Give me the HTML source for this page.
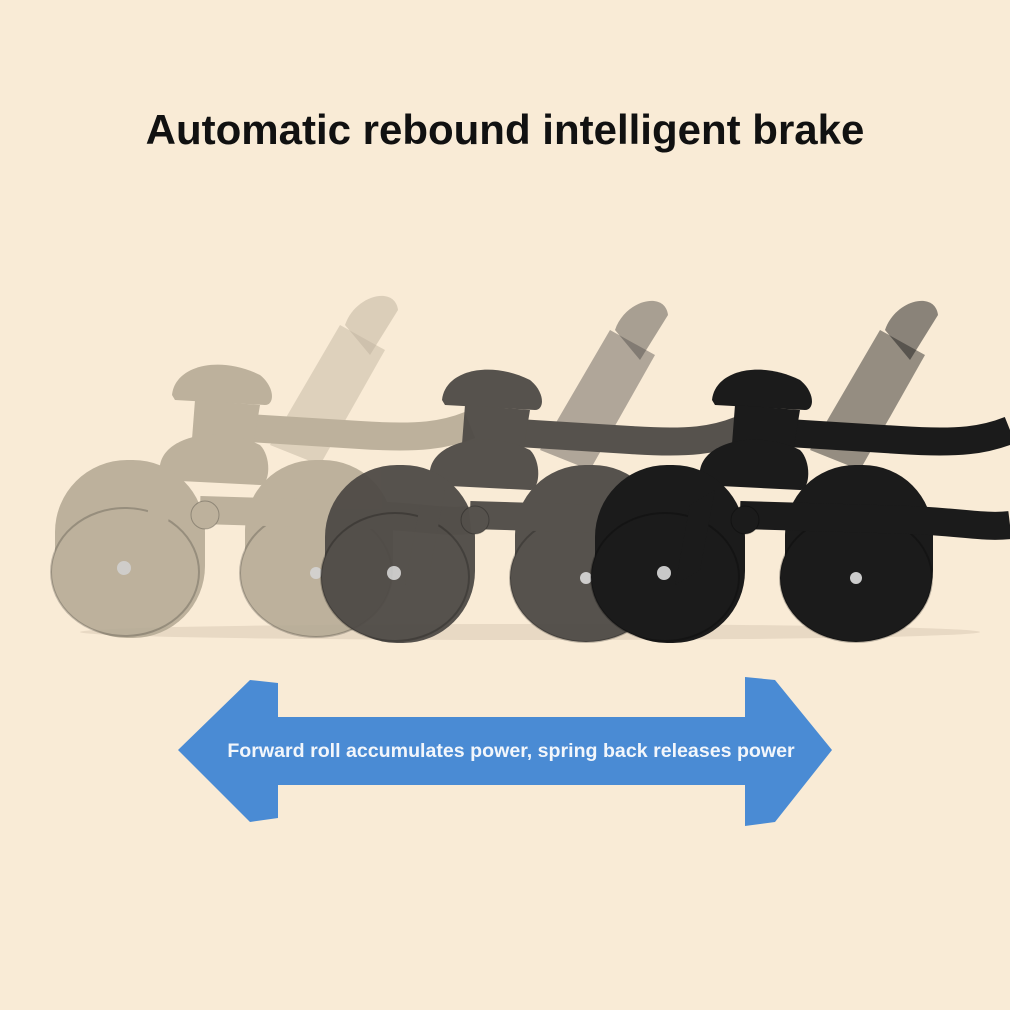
<!DOCTYPE html>
<html><head><meta charset="utf-8"><style>
html,body{margin:0;padding:0;background:#f9ebd6;}
body{width:1010px;height:1010px;position:relative;overflow:hidden;font-family:"Liberation Sans",sans-serif;}
h1{position:absolute;top:106px;left:0;width:1010px;text-align:center;margin:0;font-size:42px;font-weight:bold;color:#111;}
</style></head><body>
<h1>Automatic rebound intelligent brake</h1>
<svg width="1010" height="1010" style="position:absolute;left:0;top:0">
<defs>
<g id="r">
  <path d="M810,450 L880,330 L925,355 L860,470 Z" fill="currentColor" opacity="0.45"/>
  <path d="M885,330 C895,300 935,290 938,315 L910,360 Z" fill="currentColor" opacity="0.5"/>
  <path d="M740,430 L900,440 C960,444 985,440 1010,430" stroke="currentColor" stroke-width="28" fill="none"/>
  <path d="M712,400 C715,370 760,360 800,380 C815,392 815,410 805,410 L715,405 Z" fill="currentColor"/>
  <path d="M735,405 L800,410 L790,470 L730,470 Z" fill="currentColor"/>
  <rect x="785" y="465" width="148" height="175" rx="70" fill="currentColor"/>
  <ellipse cx="856" cy="578" rx="76" ry="64" fill="currentColor" stroke="#000" stroke-opacity="0.25" stroke-width="2"/>
  <circle cx="856" cy="578" r="6" fill="#ccc"/>
  <path d="M740,515 L910,520 C960,522 985,528 1010,525" stroke="currentColor" stroke-width="28" fill="none"/>
  <path d="M700,470 C705,440 760,430 800,450 C812,462 810,490 800,490 L700,485 Z" fill="currentColor"/>
  <rect x="595" y="465" width="150" height="178" rx="72" fill="currentColor"/>
  <ellipse cx="665" cy="577" rx="74" ry="64" fill="currentColor" stroke="#000" stroke-opacity="0.25" stroke-width="2"/>
  <path d="M715,490 L700,570 L675,585 L690,505 Z" fill="currentColor"/>
  <circle cx="745" cy="520" r="14" fill="currentColor" stroke="#000" stroke-opacity="0.3"/>
  <circle cx="664" cy="573" r="7" fill="#c8c8c8"/>
</g>
</defs>
<ellipse cx="530" cy="632" rx="450" ry="8" fill="#e8d9c4"/>
<use href="#r" x="-540" y="-5" style="color:#b3a893" opacity="0.85"/>
<use href="#r" x="-270" y="0" style="color:#4e4a46" opacity="0.95"/>
<use href="#r" x="0" y="0" style="color:#1b1b1b"/>
<path d="M178,750 L250,680 L278,683 L278,717 L745,717 L745,677 L775,680 L832,750 L775,822 L745,826 L745,785 L278,785 L278,818 L250,822 Z" fill="#4a8bd4"/>
<text x="511" y="757" text-anchor="middle" font-family="Liberation Sans, sans-serif" font-size="19.6" font-weight="bold" fill="#f2f6fb">Forward roll accumulates power, spring back releases power</text>
</svg>
</body></html>
